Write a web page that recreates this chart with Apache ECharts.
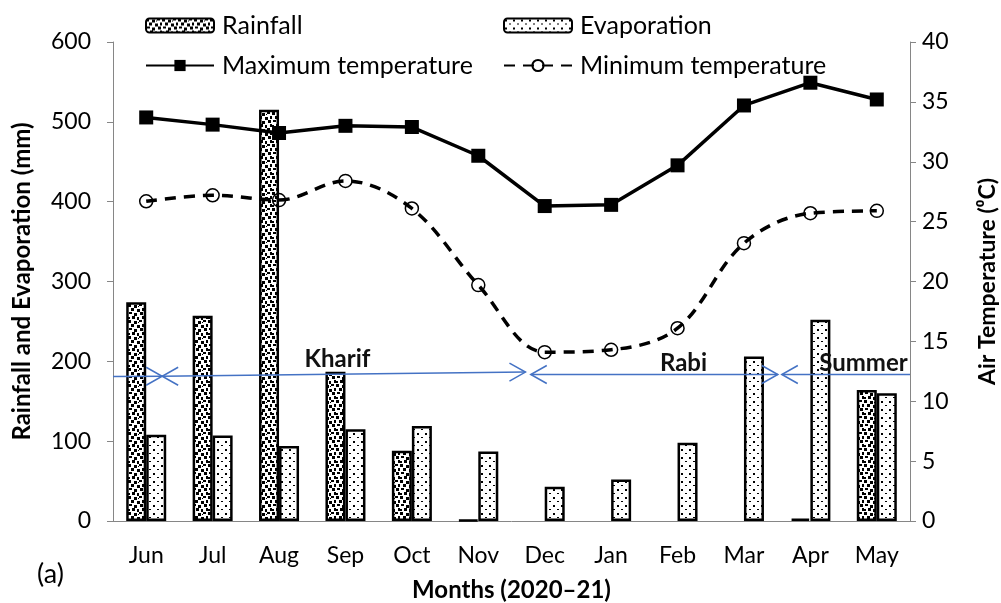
<!DOCTYPE html>
<html>
<head>
<meta charset="utf-8">
<script src="https://cdn.jsdelivr.net/npm/echarts@6/dist/echarts.min.js"></script>
<style>html,body{margin:0;padding:0;background:#fff}#c{width:1001px;height:603px}</style>
</head>
<body>
<div id="c"></div>
<script>
// ---- data ----
const months = ['Jun','Jul','Aug','Sep','Oct','Nov','Dec','Jan','Feb','Mar','Apr','May'];
const rainfall = [274, 257, 515, 187, 88, 1.5, 0, 0, 0, 0, 3, 164];
const evaporation = [108, 107, 94, 115, 119, 87, 43, 52, 98, 206, 252, 160];
const maxTemp = [33.7, 33.1, 32.4, 33.0, 32.9, 30.5, 26.3, 26.4, 29.7, 34.7, 36.6, 35.2];
const minTemp = [26.7, 27.2, 26.8, 28.4, 26.1, 19.7, 14.1, 14.3, 16.1, 23.2, 25.7, 25.9];
const leftTicks = [0, 600, 100];
const rightTicks = [0, 40, 5];
const seasons = ['Kharif', 'Rabi', 'Summer'];

const FONT = 'Lato';

function makePattern(kind) {
  const c = document.createElement('canvas');
  const ctx = c.getContext('2d');
  if (kind === 'rain') {
    c.width = 16; c.height = 16;
    ctx.fillStyle = '#fff'; ctx.fillRect(0, 0, 16, 16);
    ctx.fillStyle = '#000';
    const sq = [[0,0,3,3],[6,1,3,3],[11,0,3,2],[3,4,3,3],[9,5,3,3],[14,4,2,3],
                [1,8,3,2],[6,9,3,3],[12,8,3,3],[4,12,3,3],[9,13,2,3],[14,12,2,3],[0,13,2,2],[10,2,1,1]];
    sq.forEach(s => ctx.fillRect(s[0], s[1], s[2], s[3]));
  } else {
    c.width = 8; c.height = 8;
    ctx.fillStyle = '#fff'; ctx.fillRect(0, 0, 8, 8);
    ctx.fillStyle = '#000';
    ctx.fillRect(1, 1, 2, 2);
    ctx.fillRect(5, 5, 2, 1);
  }
  return { image: c, repeat: 'repeat' };
}
// zero-height bars carry no outline (as in the original)
function barData(arr) {
  return arr.map(v => v === 0 ? { value: v, itemStyle: { borderWidth: 0 } } : v);
}

const chart = echarts.init(document.getElementById('c'));
const axisLineStyle = { color: '#868686', width: 1 };

const option = {
  backgroundColor: '#fff',
  animation: false,
  textStyle: { fontFamily: FONT },
  grid: { left: 113, right: 91, top: 42, bottom: 82, containLabel: false, outerBoundsMode: 'none' },
  legend: [
    { data: ['Rainfall'], left: 140, top: 8 },
    { data: ['Evaporation'], left: 498, top: 8 },
    { data: ['Maximum temperature'], left: 140, top: 48 },
    { data: ['Minimum temperature'], left: 498, top: 48 }
  ].map(l => Object.assign(l, {
    itemWidth: 68, itemHeight: 14, itemGap: 0,
    textStyle: { fontFamily: FONT, fontSize: 25, color: '#000', padding: [0, 0, 0, 3] }
  })),
  xAxis: {
    type: 'category', data: months,
    axisLine: { lineStyle: axisLineStyle },
    axisTick: { length: 7, lineStyle: axisLineStyle },
    axisLabel: { fontFamily: FONT, fontSize: 23, color: '#000', margin: 23 },
    name: 'Months (2020\u201321)', nameLocation: 'middle', nameGap: 57,
    nameTextStyle: { fontFamily: FONT, fontSize: 24, fontWeight: 'bold', color: '#000' }
  },
  yAxis: [
    {
      type: 'value', min: leftTicks[0], max: leftTicks[1], interval: leftTicks[2],
      splitLine: { show: false },
      axisLine: { show: true, lineStyle: axisLineStyle },
      axisTick: { show: true, length: 6, lineStyle: axisLineStyle },
      axisLabel: { fontFamily: FONT, fontSize: 23, color: '#000', margin: 22 },
      name: 'Rainfall and Evaporation (mm)', nameLocation: 'middle', nameGap: 79,
      nameTextStyle: { fontFamily: FONT, fontSize: 24, fontWeight: 'bold', color: '#000' }
    },
    {
      type: 'value', min: rightTicks[0], max: rightTicks[1], interval: rightTicks[2],
      position: 'right',
      splitLine: { show: false },
      axisLine: { show: true, lineStyle: axisLineStyle },
      axisTick: { show: true, length: 6, lineStyle: axisLineStyle },
      axisLabel: { fontFamily: FONT, fontSize: 23, color: '#000', margin: 12 },
      name: 'Air Temperature (\u2070C)', nameLocation: 'middle', nameGap: 66,
      nameRotate: 90,
      nameTextStyle: { fontFamily: FONT, fontSize: 23, fontWeight: 'bold', color: '#000' }
    }
  ],
  series: [
    {
      name: 'Rainfall', type: 'bar', data: barData(rainfall), barWidth: 20, barGap: '0%',
      itemStyle: { color: makePattern('rain'), borderColor: '#000', borderWidth: 2.5 }
    },
    {
      name: 'Evaporation', type: 'bar', data: barData(evaporation), barWidth: 20, barGap: '0%',
      itemStyle: { color: makePattern('evap'), borderColor: '#000', borderWidth: 2.5 }
    },
    {
      name: 'Maximum temperature', type: 'line', yAxisIndex: 1, data: maxTemp,
      symbol: 'rect', symbolSize: 14,
      lineStyle: { color: '#000', width: 3.5 },
      itemStyle: { color: '#000' }
    },
    {
      name: 'Minimum temperature', type: 'line', yAxisIndex: 1, data: minTemp,
      smooth: 0.35,
      symbol: 'circle', symbolSize: 13,
      lineStyle: { color: '#000', width: 3.5, type: [11, 8] },
      itemStyle: { color: 'rgba(255,255,255,0)', borderColor: '#000', borderWidth: 1.5 }
    }
  ]
};
chart.setOption(option);

// ---- season annotations (in category-index / mm units) ----
const arrowSpans = [
  // [iStart, mmStart, iEnd, mmEnd, headStart, headEnd]
  [-0.5, 181.0, 0.24, 181.3, false, true],
  [0.24, 181.3, 5.71, 186.5, true, true],
  [5.79, 183.5, 9.51, 183.5, true, true],
  [9.57, 183.5, 11.5, 183.5, true, false]
];
const labelPos = [[2.88, 203], [8.09, 197], [10.8, 197]];

const p0 = chart.convertToPixel({ xAxisIndex: 0, yAxisIndex: 0 }, [0, 0]);
const p11 = chart.convertToPixel({ xAxisIndex: 0, yAxisIndex: 0 }, [11, 0]);
const step = (p11[0] - p0[0]) / 11;
function toPx(i, mm) {
  const y = chart.convertToPixel({ yAxisIndex: 0 }, mm);
  return [p0[0] + i * step, y];
}
const blue = '#4472C4';
const g = [];
arrowSpans.forEach(a => {
  const s = toPx(a[0], a[1]), e = toPx(a[2], a[3]);
  g.push({ type: 'line', shape: { x1: s[0], y1: s[1], x2: e[0], y2: e[1] }, style: { stroke: blue, lineWidth: 1.5 }, z: 50 });
  if (a[4]) g.push({ type: 'polyline', shape: { points: [[s[0] + 16, s[1] - 9], s, [s[0] + 16, s[1] + 9]] }, style: { stroke: blue, lineWidth: 1.5, fill: null }, z: 50 });
  if (a[5]) g.push({ type: 'polyline', shape: { points: [[e[0] - 16, e[1] - 9], e, [e[0] - 16, e[1] + 9]] }, style: { stroke: blue, lineWidth: 1.5, fill: null }, z: 50 });
});
seasons.forEach((name, k) => {
  const p = toPx(labelPos[k][0], labelPos[k][1]);
  g.push({ type: 'text', x: p[0], y: p[1], z: 60,
    style: { text: name, fontFamily: FONT, fontSize: 24, fontWeight: 'bold', fill: '#111', align: 'center', verticalAlign: 'middle' } });
});
g.push({ type: 'text', left: 37, top: 561, style: { text: '(a)', fontFamily: FONT, fontSize: 27, fill: '#000' } });
chart.setOption({ graphic: g });
</script>
</body>
</html>
